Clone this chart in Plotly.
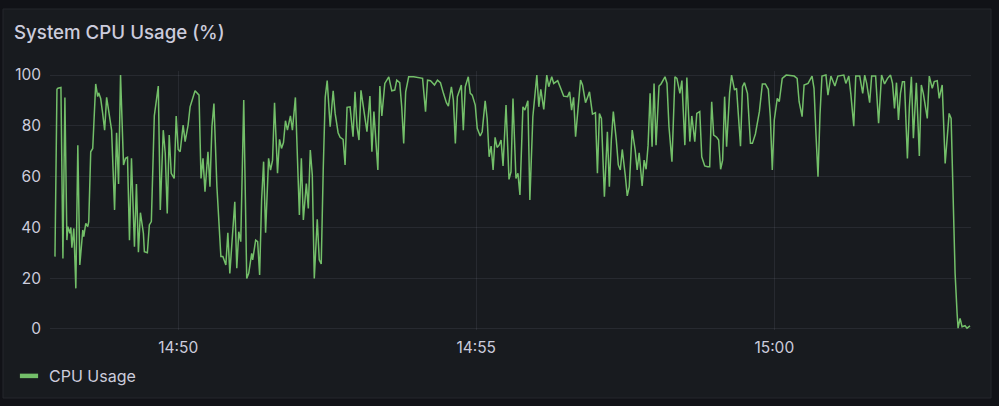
import pandas as pd
import plotly.graph_objects as go

# seconds after 14:47:00
t_sec = [56, 58, 59, 62, 64, 66, 68, 69, 71, 72, 73, 75, 77, 79, 81, 84, 85, 87, 89, 90,
         92, 94, 97, 99, 100, 102, 104, 106, 108, 110, 113, 116, 118, 120, 122, 125, 127, 129, 131, 133,
         136, 138, 140, 142, 145, 146, 149, 151, 153, 156, 160, 162, 165, 167, 169, 171, 173, 176, 178, 180,
         182, 185, 187, 190, 192, 197, 201, 203, 205, 207, 210, 212, 214, 216, 219, 223, 225, 228, 230, 232,
         235, 237, 239, 241, 243, 244, 246, 249, 251, 254, 255, 258, 260, 262, 264, 266, 268, 271, 273, 275,
         277, 280, 282, 284, 286, 288, 290, 293, 295, 298, 300, 302, 304, 306, 309, 311, 313, 315, 317, 320,
         322, 324, 326, 328, 330, 333, 336, 338, 341, 343, 346, 348, 350, 353, 356, 358, 360, 362, 364, 370,
         373, 375, 377, 379, 381, 383, 385, 388, 392, 395, 398, 400, 403, 405, 407, 409, 412, 417, 423, 426,
         429, 431, 434, 438, 441, 444, 447, 450, 452, 455, 457, 459, 461, 465, 467, 469, 472, 474, 476, 479,
         481, 484, 486, 489, 491, 493, 495, 497, 499, 501, 503, 505, 507, 510, 513, 515, 517, 520, 522, 524,
         527, 529, 532, 534, 537, 539, 541, 543, 545, 548, 551, 553, 556, 558, 562, 565, 568, 572, 574, 576,
         578, 580, 583, 585, 587, 590, 592, 594, 597, 600, 602, 604, 606, 609, 612, 614, 616, 618, 621, 623,
         625, 627, 630, 632, 634, 637, 640, 642, 644, 647, 649, 651, 653, 655, 657, 659, 661, 664, 666, 670,
         672, 674, 677, 680, 682, 685, 687, 690, 692, 695, 697, 700, 702, 705, 707, 710, 713, 715, 717, 719,
         722, 724, 726, 728, 730, 732, 735, 737, 740, 742, 746, 748, 750, 753, 756, 758, 761, 765, 768, 771,
         774, 776, 778, 780, 783, 785, 788, 792, 800, 803, 805, 808, 810, 814, 818, 820, 822, 824, 826, 828,
         832, 834, 837, 841, 844, 850, 852, 855, 857, 860, 862, 866, 869, 871, 873, 876, 878, 882, 885, 888,
         891, 894, 897, 899, 901, 903, 905, 907, 909, 911, 914, 916, 918, 920, 923, 926, 928, 930, 934, 936,
         939, 941, 944, 946, 948, 949, 952, 954, 956, 958, 960, 962, 964, 965, 967, 969, 972, 974, 977]

cpu = [28.5, 94.4, 94.8, 95.1, 27.8, 91.2, 35, 40.3, 37.7, 40, 32, 39.6, 16, 72.4, 25.2, 39, 36.4, 41.6, 40.3, 42.3,
       69.8, 71.1, 96.5, 91.5, 93, 90.8, 84.9, 78.3, 91.2, 86.2, 78.3, 46.9, 77.3, 57.1, 100, 64.6, 67.2, 67.6, 35, 67.2,
       32.4, 57.1, 30.2, 45.8, 37.7, 30.4, 30, 41, 42.3, 84, 95.7, 46.9, 78.3, 69.2, 45.5, 76.4, 61.3, 59.3, 83.9, 70.7,
       69.8, 80.3, 73.8, 80.3, 87.5, 93.8, 92.1, 59.3, 67.2, 54.1, 69.8, 56, 79.7, 88.8, 56, 28.5, 28.5, 25.2, 37.9, 21.9,
       40.9, 50.1, 23.9, 38.3, 34.4, 49.5, 90.2, 19.9, 21.9, 29.8, 27.2, 35, 34.4, 21.3, 50.8, 65.9, 37.9, 67.2, 62.6, 66.5,
       89.1, 61.3, 74.7, 71.1, 73.4, 82, 78.3, 83.9, 78.3, 91.2, 63.9, 44.9, 67.2, 42.9, 57.3, 47.5, 70.5, 60.6, 19.9, 43.2,
       27.2, 25.6, 62.6, 91.2, 97.8, 79.7, 93.8, 84.9, 77.3, 75.5, 74.7, 64.6, 87.3, 87.5, 75.7, 93.4, 79.7, 74.4, 94, 77.7,
       91.7, 69.8, 85.6, 73.8, 62.6, 95.7, 83.9, 96.7, 99.3, 93.8, 94.1, 98, 97, 87.5, 73.1, 93.4, 99.3, 99.3, 99, 98.7,
       85.6, 98, 97.8, 96.1, 98, 97, 92.8, 89.1, 87.8, 95.4, 90.2, 73.1, 91.5, 96.1, 78.3, 95.4, 99.3, 92.8, 92.1, 88.2,
       79, 76, 77.7, 89.9, 82.9, 67.8, 72, 62.6, 75.5, 71.5, 72.4, 74.4, 64.2, 88.2, 58.9, 61.9, 90.8, 59.3, 61.3, 52.8,
       87.5, 86.2, 89.9, 50.8, 83.6, 93.4, 100, 87.5, 94.4, 86.5, 100, 95.4, 99.3, 96.7, 97.8, 94.8, 91.7, 91.5, 93.4, 86.2,
       91.2, 75.7, 87.5, 98, 96.1, 89.1, 91.2, 93.4, 84.6, 85.2, 61.3, 84.9, 82.9, 52.1, 77.7, 56, 74.4, 85.6, 74.4, 64.6,
       62.6, 70.7, 60.6, 52.4, 56, 78.3, 70.5, 62.6, 69.4, 56.3, 66.5, 62.9, 72.4, 92.8, 71.8, 96.7, 72.4, 95.7, 96.5, 99.3,
       96.7, 79.7, 65.9, 99.3, 98.7, 92.8, 97.8, 72.4, 99, 73.8, 83.9, 73.8, 84.9, 85.6, 67.8, 64.2, 63.9, 63.9, 89.5, 76.4,
       75.5, 74.4, 62.9, 66.5, 91.5, 71.8, 92.8, 100, 94.1, 94.8, 72, 95.4, 97, 92.8, 73.1, 73.1, 76.8, 85.6, 96.5, 96.5,
       94.4, 83.6, 62.6, 82.3, 90.8, 89.5, 98.7, 100, 99.6, 98.7, 89.5, 83.6, 96.1, 96.7, 99.6, 94.8, 76.4, 60, 84.3, 99.6,
       100, 92.1, 99.6, 95.7, 99.6, 100, 96.7, 99.6, 92.8, 79.9, 99.6, 99.6, 92.8, 100, 96.7, 89.1, 99.6, 99.6, 81, 100,
       96.5, 98.7, 100, 96.7, 86.9, 97, 82.3, 92.8, 97.4, 97.4, 67.2, 87.5, 99.3, 75.1, 97, 68.1, 96.1, 92.8, 82.9, 99.6,
       94.8, 97.4, 97.8, 90.8, 94.4, 96.1, 65.2, 74.4, 84.9, 82.9, 53.4, 21.9, 6.2, 0.3, 4.2, 0.9, 1.3, 0.3, 1.2]

y_ticks = [0, 20, 40, 60, 80, 100]
series_name = "CPU Usage"
title_text = "System CPU Usage (%)"

base = pd.Timestamp("2024-01-01 14:47:00")
times = base + pd.to_timedelta(t_sec, unit="s")

GREEN = "#73BF69"
TEXT = "#ccccdc"
GRID = "rgba(204,204,220,0.09)"
FONT = "Inter, Roboto, sans-serif"

fig = go.Figure()
fig.add_trace(go.Scatter(x=times, y=cpu, mode="lines", name=series_name,
                         line=dict(color=GREEN, width=1.5), showlegend=False,
                         hoverinfo="skip"))
fig.add_trace(go.Scatter(x=[None], y=[None], mode="markers", name=series_name,
                         marker=dict(symbol="line-ew", size=13,
                                     line=dict(color=GREEN, width=4.5)),
                         showlegend=True))

W, H = 999, 406
L, R, T, B = 50, 28, 71, 76
pw, ph = W - L - R, H - T - B


def px_x(p):
    return (p - L) / pw


def px_y(p):
    return (H - B - p) / ph


fig.update_layout(
    width=W, height=H,
    margin=dict(l=L, r=R, t=T, b=B, autoexpand=False),
    paper_bgcolor="#111217",
    plot_bgcolor="rgba(0,0,0,0)",
    font=dict(family=FONT, color=TEXT, size=15),
    showlegend=True,
    legend=dict(orientation="h", x=px_x(9), xanchor="left", y=px_y(376), yanchor="middle",
                font=dict(size=16, color=TEXT, family=FONT), bgcolor="rgba(0,0,0,0)",
                itemsizing="trace"),
    xaxis=dict(
        type="date",
        range=[base + pd.Timedelta(seconds=51), base + pd.Timedelta(seconds=978)],
        tickformat="%H:%M", dtick=300000,
        tick0=base + pd.Timedelta(seconds=180),
        showgrid=True, gridcolor=GRID, gridwidth=1,
        zeroline=False, showline=False, ticks="",
        tickfont=dict(size=15.5, color=TEXT, family=FONT), ticklabelstandoff=6,
        automargin=False,
    ),
    yaxis=dict(
        range=[-0.4, 101.6],
        tickvals=y_ticks,
        showgrid=True, gridcolor=GRID, gridwidth=1,
        zeroline=False, showline=False, ticks="",
        tickfont=dict(size=15.5, color=TEXT, family=FONT), ticklabelstandoff=8,
        automargin=False,
    ),
    shapes=[dict(type="rect", xref="paper", yref="paper", layer="below",
                 x0=px_x(3), x1=px_x(991), y0=px_y(398), y1=px_y(9),
                 fillcolor="#181b1f", line=dict(color="#25272c", width=1))],
    annotations=[dict(text=title_text, xref="paper", yref="paper",
                      x=px_x(12), y=px_y(32), xanchor="left", yanchor="middle",
                      showarrow=False,
                      font=dict(size=18.7, color=TEXT, family=FONT, weight=500))],
)

fig.write_html("out.html", config={"displayModeBar": False},
               post_script="document.body.style.margin='0';document.body.style.background='#111217';")
